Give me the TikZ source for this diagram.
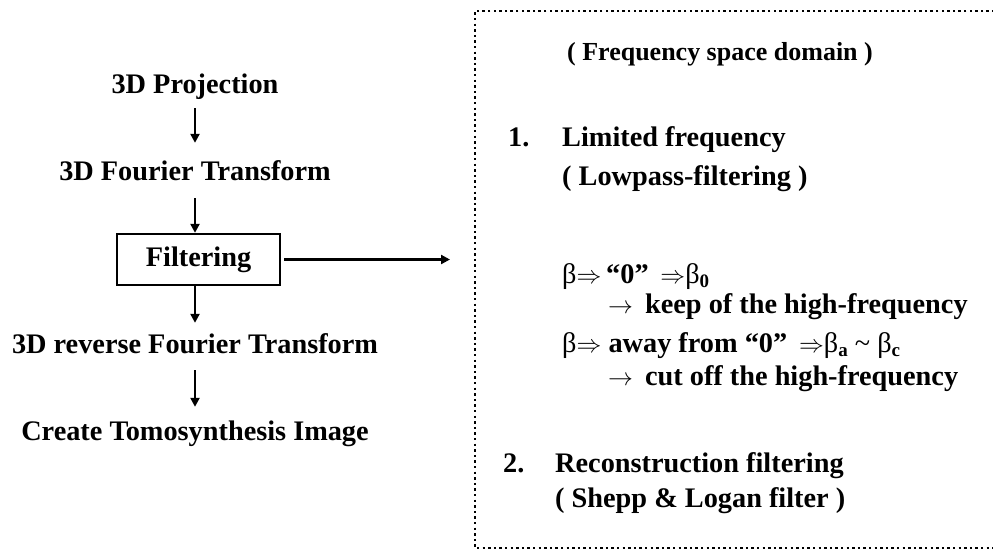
\documentclass[tikz,border=0pt]{standalone}
\usepackage{fontspec}
\setmainfont{Liberation Serif}
\usetikzlibrary{arrows.meta}
% lowered bold subscript for the beta indices
\newcommand\betasub[1]{\raisebox{-0.35ex}{\fontsize{19}{19}\selectfont\bfseries #1}}
\begin{document}
\begin{tikzpicture}[x=1pt,y=-1pt,
  every node/.style={font=\fontsize{28.3}{33}\selectfont\bfseries},
  flow/.style={anchor=base, inner sep=0pt, text height=20pt, text depth=6pt},
  txt/.style={anchor=base west, inner sep=0pt},
  procbox/.style={draw, line width=2.4pt, minimum width=163pt, minimum height=51pt, inner sep=0pt},
  arr/.style={line width=2.4pt, -{Triangle[length=9pt,width=9pt]}},
  dotframe/.style={line width=2.4pt, dash pattern=on 2.4pt off 3.2pt},
]
\useasboundingbox (0,0) rectangle (993,550);

% processing chain
\node[flow] (proj) at (195,93) {3D Projection};
\node[flow] (four) at (195,180) {3D Fourier Transform};
\node[procbox] (filt) at (198.5,259.5) {Filtering};
\node[flow] (rev) at (195,353) {3D reverse Fourier Transform};
\node[flow] (make) at (195,440) {Create Tomosynthesis Image};
\coordinate (out) at (450,259.5);

\draw[arr, shorten <=9pt, shorten >=17pt] (proj.south) -- (four.north);
\draw[arr, shorten <=12pt] (four.south) -- (four.south |- filt.north);
\draw[arr, shorten >=10pt] (four.south |- filt.south) -- (rev.north);
\draw[arr, shorten <=11pt, shorten >=13pt] (rev.south) -- (make.north);
\draw[arr, shorten <=3pt] (filt.east) -- (out);

% frequency-domain notes
\draw[dotframe] (1000,11) -- (475,11) -- (475,548) -- (1000,548);

\node[anchor=base, inner sep=0pt, font=\fontsize{26}{31}\selectfont\bfseries] (hdr) at (720,60) {( Frequency space domain )};
\node[txt] (n1) at (508,146) {1.};
\node[txt] (l1) at (562,146) {Limited frequency};
\node[txt] (l2) at (562,185) {( Lowpass-filtering )};
\node[txt] (b1) at (562,283) {{\mdseries β$\Rightarrow$}\,“0” \,{\mdseries$\Rightarrow$β}\betasub{0}};
\node[txt] (k1) at (608,313) {$\rightarrow$\hspace{12pt}keep of the high-frequency};
\node[txt] (b2) at (562,352) {{\mdseries β$\Rightarrow$} away from “0” \,{\mdseries$\Rightarrow$β}\betasub{a}\ {\mdseries\textasciitilde}\ {\mdseries β}\betasub{c}};
\node[txt] (k2) at (608,385) {$\rightarrow$\hspace{12pt}cut off the high-frequency};
\node[txt] (n2) at (503,472) {2.};
\node[txt] (r1) at (555,472) {Reconstruction filtering};
\node[txt] (r2) at (555,507) {( Shepp \& Logan filter )};
\end{tikzpicture}
\end{document}
